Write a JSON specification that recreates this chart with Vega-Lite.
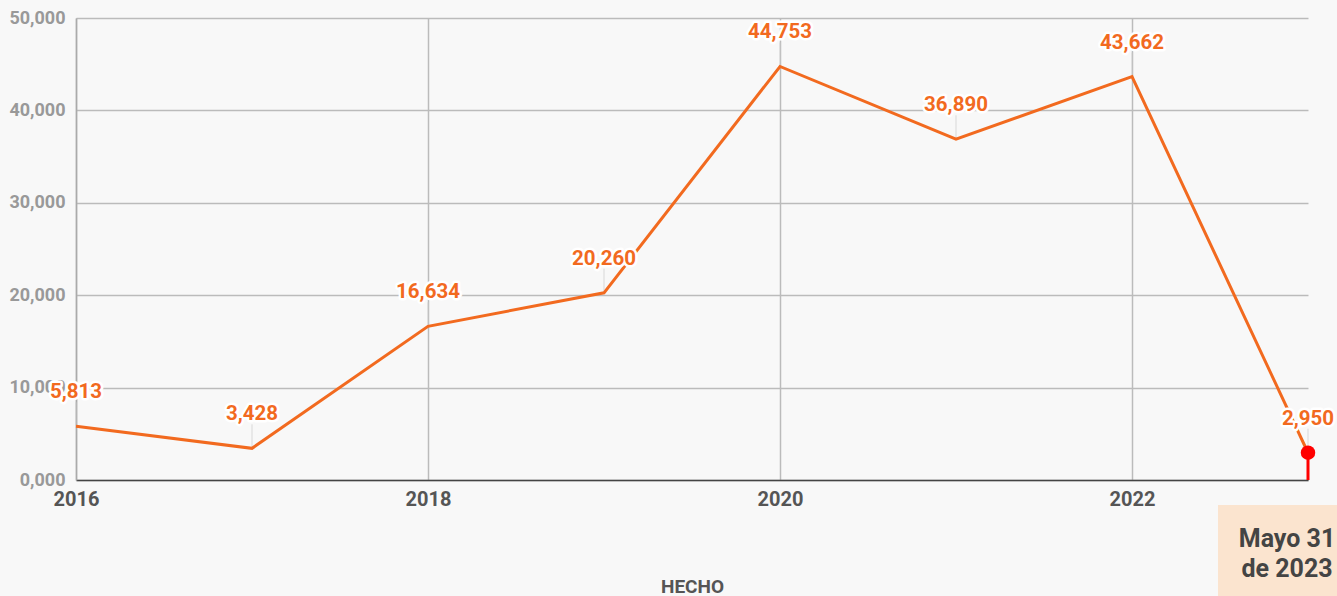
{
  "$schema": "https://vega.github.io/schema/vega-lite/v6.json",
  "width": 1232,
  "height": 462,
  "autosize": {"type": "none"},
  "padding": {"left": 76, "top": 18, "right": 29, "bottom": 116},
  "background": "#f8f8f8",
  "config": {
    "font": "Roboto",
    "view": {"stroke": null}
  },
  "data": {
    "values": [
      {"year": 2016, "value": 5813},
      {"year": 2017, "value": 3428},
      {"year": 2018, "value": 16634},
      {"year": 2019, "value": 20260},
      {"year": 2020, "value": 44753},
      {"year": 2021, "value": 36890},
      {"year": 2022, "value": 43662},
      {"year": 2023, "value": 2950}
    ]
  },
  "encoding": {
    "x": {
      "field": "year",
      "type": "quantitative",
      "scale": {"domain": [2016, 2023], "nice": false, "zero": false},
      "axis": {
        "values": [2016, 2018, 2020, 2022],
        "format": "d",
        "labelFlush": false,
        "labelColor": "#555555",
        "labelFontSize": 20,
        "labelFontWeight": "bold",
        "labelPadding": 9,
        "domainColor": "#444444",
        "domainWidth": 1.5,
        "ticks": false,
        "grid": true,
        "gridColor": "#bbbbbb",
        "gridWidth": 1.5,
        "title": "HECHO",
        "titleFontSize": 19,
        "titleFontWeight": "bold",
        "titleColor": "#555555",
        "titlePadding": 68
      }
    },
    "y": {
      "field": "value",
      "type": "quantitative",
      "scale": {"domain": [0, 50000], "nice": false},
      "axis": {
        "values": [0, 10000, 20000, 30000, 40000, 50000],
        "labelExpr": "datum.value == 0 ? '0,000' : format(datum.value, ',')",
        "labelFlush": false,
        "labelColor": "#999999",
        "labelFontSize": 18,
        "labelFontWeight": "bold",
        "labelPadding": 11,
        "domainColor": "#aaaaaa",
        "domainWidth": 1.5,
        "ticks": false,
        "grid": true,
        "gridColor": "#bbbbbb",
        "gridWidth": 1.5,
        "title": null
      }
    }
  },
  "layer": [
    {
      "mark": {"type": "rect", "color": "#fbe4cf", "width": 140, "height": 100, "xOffset": -20, "yOffset": 75, "clip": false},
      "encoding": {
        "x": {"datum": 2023, "type": "quantitative"},
        "y": {"datum": 0, "type": "quantitative"}
      },
      "transform": [{"filter": "datum.year == 2023"}]
    },
    {
      "mark": {"type": "text", "fontSize": 25, "fontWeight": "bold", "color": "#444444", "dx": -21, "dy": 59, "lineHeight": 30, "baseline": "middle", "align": "center"},
      "encoding": {
        "x": {"datum": 2023, "type": "quantitative"},
        "y": {"datum": 0, "type": "quantitative"},
        "text": {"value": ["Mayo 31", "de 2023"]}
      },
      "transform": [{"filter": "datum.year == 2023"}]
    },
    {
      "mark": {"type": "tick", "orient": "vertical", "size": 24, "yOffset": -12, "thickness": 1, "color": "#cccccc"}
    },
    {
      "mark": {"type": "line", "color": "#f26a1f", "strokeWidth": 3}
    },
    {
      "transform": [{"filter": "datum.year == 2023"}],
      "mark": {"type": "rule", "color": "#ff0000", "strokeWidth": 3},
      "encoding": {"y2": {"datum": 0}}
    },
    {
      "transform": [{"filter": "datum.year == 2023"}],
      "mark": {"type": "circle", "color": "#ff0000", "size": 210, "opacity": 1}
    },
    {
      "mark": {"type": "text", "fontSize": 20.5, "fontWeight": "bold", "dy": -34, "stroke": "#ffffff", "strokeWidth": 5, "strokeJoin": "round", "color": "#ffffff"},
      "encoding": {"text": {"field": "value", "type": "quantitative", "format": ","}}
    },
    {
      "mark": {"type": "text", "fontSize": 20.5, "fontWeight": "bold", "dy": -34, "color": "#f26a1f"},
      "encoding": {"text": {"field": "value", "type": "quantitative", "format": ","}}
    }
  ]
}
